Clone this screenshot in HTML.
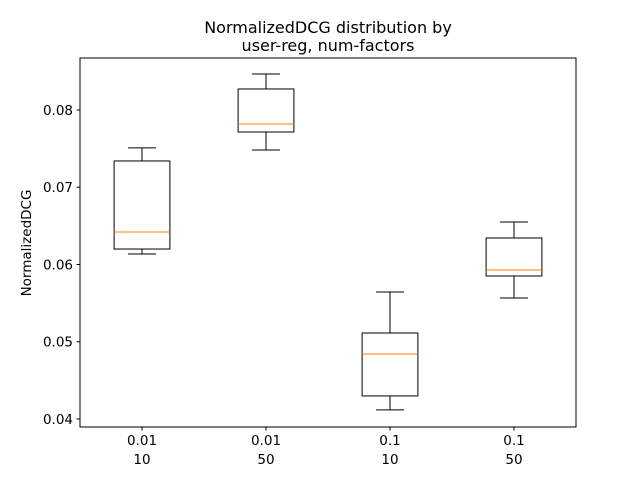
<!DOCTYPE html>
<html><head><meta charset="utf-8"><style>body{margin:0;background:#fff}svg{display:block;font-family:"DejaVu Sans","Liberation Sans",sans-serif}</style></head>
<body>
<svg id="chart" width="640" height="480" xmlns="http://www.w3.org/2000/svg">
<rect width="640" height="480" fill="#fff"/>
<text x="328" y="33" font-size="16" text-anchor="middle">NormalizedDCG distribution by</text>
<text x="328" y="51" font-size="16" text-anchor="middle">user-reg, num-factors</text>
<text transform="translate(31,243) rotate(-90)" font-size="13.5" text-anchor="middle">NormalizedDCG</text>
<g id="marks"></g>
<rect x="80" y="58" width="496" height="369" fill="none" stroke="#000" stroke-width="1"/>
</svg>
<script>
const catLine1 = ["0.01","0.01","0.1","0.1"];
const catLine2 = ["10","50","10","50"];
const whiskLow = [0.06136,0.07482,0.04117,0.05566];
const q1 = [0.0620,0.07715,0.04298,0.05851];
const median = [0.0642,0.07819,0.04841,0.05929];
const q3 = [0.0734,0.08272,0.05113,0.06343];
const whiskHigh = [0.0751,0.08466,0.05644,0.0655];
const yTicks = [0.04,0.05,0.06,0.07,0.08];
const yTickLabels = ["0.04","0.05","0.06","0.07","0.08"];

const L=80,R=576,T=58,B=427, yMin=0.03896, yMax=0.08673;
const sy=v=>B-(v-yMin)/(yMax-yMin)*(B-T);
const sx=i=>L+(i+1-0.5)/4*(R-L);
const ns="http://www.w3.org/2000/svg";
const g=document.getElementById('marks');
function mk(tag,attrs){const e=document.createElementNS(ns,tag);for(const k in attrs)e.setAttribute(k,attrs[k]);g.appendChild(e);return e;}
const bw=0.45*(R-L)/4;
for(let i=0;i<catLine1.length;i++){
  const x=sx(i);
  let e;
  e=mk('line',{x1:x,x2:x,y1:sy(whiskLow[i]),y2:sy(q1[i]),stroke:'#000'});
  
  
  e=mk('line',{x1:x,x2:x,y1:sy(q3[i]),y2:sy(whiskHigh[i]),stroke:'#000'});
  
  
  e=mk('line',{x1:x-bw/4,x2:x+bw/4,y1:sy(whiskLow[i]),y2:sy(whiskLow[i]),stroke:'#000'});
  
  
  e=mk('line',{x1:x-bw/4,x2:x+bw/4,y1:sy(whiskHigh[i]),y2:sy(whiskHigh[i]),stroke:'#000'});
  
  
  e=mk('rect',{x:x-bw/2,y:sy(q3[i]),width:bw,height:sy(q1[i])-sy(q3[i]),fill:'none',stroke:'#000'});
  
  
  e=mk('line',{x1:x-bw/2,x2:x+bw/2,y1:sy(median[i]),y2:sy(median[i]),stroke:'#ff7f0e'});
  
  
  e=mk('line',{x1:x,x2:x,y1:B,y2:B+3.5,stroke:'#000'});
  
  
  e=mk('text',{x:x,y:B+18,'font-size':13.5,'text-anchor':'middle'});e.textContent=catLine1[i];
  
  
  e=mk('text',{x:x,y:B+37,'font-size':13.5,'text-anchor':'middle'});e.textContent=catLine2[i];
  
  
}
for(let j=0;j<yTicks.length;j++){
  const y=sy(yTicks[j]);let e;
  e=mk('line',{x1:L-3.5,x2:L,y1:y,y2:y,stroke:'#000'});
  
  
  e=mk('text',{x:L-7,y:y+5,'font-size':13.5,'text-anchor':'end'});e.textContent=yTickLabels[j];
  
  
}
</script>
</body></html>
